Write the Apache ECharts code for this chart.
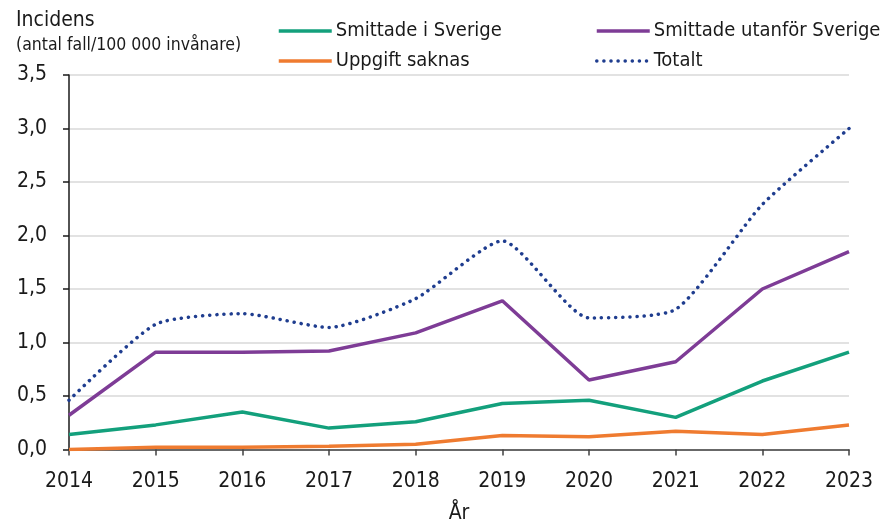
<!DOCTYPE html>
<html><head><meta charset="utf-8">
<script src="https://cdn.jsdelivr.net/npm/echarts@6/dist/echarts.min.js"></script>
<style>html,body{margin:0;padding:0;background:#fff}#c{width:889px;height:523px}</style>
</head><body><div id="c"></div>
<script>
const years = ['2014','2015','2016','2017','2018','2019','2020','2021','2022','2023'];
const smittadeSverige = [0.14,0.23,0.35,0.20,0.26,0.43,0.46,0.30,0.64,0.91];
const smittadeUtanfor = [0.32,0.91,0.91,0.92,1.09,1.39,0.65,0.82,1.50,1.85];
const uppgiftSaknas = [0.00,0.02,0.02,0.03,0.05,0.13,0.12,0.17,0.14,0.23];
const totalt = [0.46,1.17,1.27,1.14,1.41,1.95,1.23,1.31,2.29,3.00];
const names = ['Smittade i Sverige','Smittade utanför Sverige','Uppgift saknas','Totalt'];
const colors = ['#13A07C','#7E3C96','#EF7B30','#1F3D8F'];
const FONT = "'DejaVu Sans Condensed', 'DejaVu Sans'";
const chart = echarts.init(document.getElementById('c'));
function leg(name, left, top){
  return {data:[name], left:left, top:top, padding:0, itemWidth:53, itemHeight:14, itemGap:0,
    itemStyle:{opacity:0}, lineStyle:{width:3.5},
    textStyle:{fontFamily:FONT, fontSize:20, color:'#1a1a1a', padding:[0,0,0,-1]}, selectedMode:false};
}
chart.setOption({
  animation:false,
  textStyle:{fontFamily:FONT},
  title:{text:'Incidens', subtext:'(antal fall/100 000 invånare)', left:11, top:5, itemGap:5,
    textStyle:{fontFamily:FONT, fontSize:21, fontWeight:'normal', color:'#1a1a1a'},
    subtextStyle:{fontFamily:FONT, fontSize:17.5, color:'#1a1a1a'}},
  legend:[leg(names[0],277,21), leg(names[1],595,21), leg(names[2],277,51), leg(names[3],595,51)],
  grid:{left:69, right:40, top:75, bottom:73.5, outerBoundsMode:'none', containLabel:false},
  xAxis:{type:'category', data:years, boundaryGap:false,
    name:'År', nameLocation:'middle', nameGap:54, nameTextStyle:{fontFamily:FONT, fontSize:21, color:'#1a1a1a'},
    axisLine:{lineStyle:{color:'#404040', width:1.5}},
    axisTick:{length:6, lineStyle:{color:'#404040', width:1.5}},
    axisLabel:{fontFamily:FONT, fontSize:21, color:'#1a1a1a', margin:22}},
  yAxis:{type:'value', min:0, max:3.5, interval:0.5,
    axisLine:{show:true, lineStyle:{color:'#1a1a1a', width:1.5}},
    axisTick:{show:true, length:6, lineStyle:{color:'#1a1a1a', width:1.5}},
    splitLine:{lineStyle:{color:'#d9d9d9', width:1.5}},
    axisLabel:{fontFamily:FONT, fontSize:21, color:'#1a1a1a', margin:22, padding:[6,0,0,0],
      formatter:v=>v.toFixed(1).replace('.',',')}},
  series:[
    {name:names[0], type:'line', data:smittadeSverige, symbol:'none', lineStyle:{color:colors[0], width:3.5}, itemStyle:{color:colors[0]}, z:3},
    {name:names[1], type:'line', data:smittadeUtanfor, symbol:'none', lineStyle:{color:colors[1], width:3.5}, itemStyle:{color:colors[1]}, z:3},
    {name:names[2], type:'line', data:uppgiftSaknas, symbol:'none', lineStyle:{color:colors[2], width:3.5}, itemStyle:{color:colors[2]}, z:3},
    {name:names[3], type:'line', data:totalt, symbol:'none', smooth:0.2, lineStyle:{color:colors[3], width:3.5, type:[0.1,7], cap:'round'}, itemStyle:{color:colors[3]}, z:4}
  ]
});
</script></body></html>
